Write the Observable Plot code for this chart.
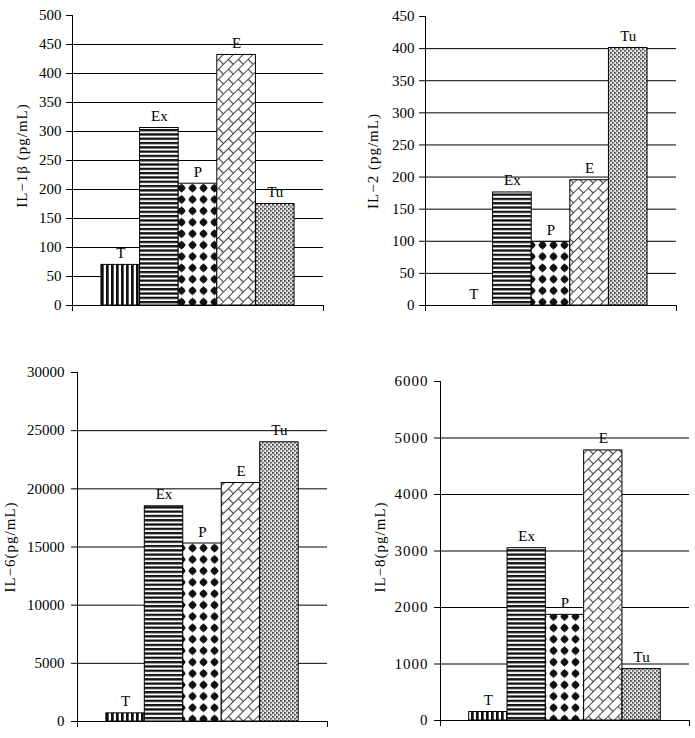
<!DOCTYPE html>
<html><head><meta charset="utf-8">
<script src="https://cdn.jsdelivr.net/npm/d3@7"></script>
<script src="https://cdn.jsdelivr.net/npm/@observablehq/plot@0.6"></script>
<style>
body{margin:0;background:#fff;}
#wrap{position:relative;width:695px;height:738px;overflow:hidden;}
#wrap > svg{position:absolute;}
</style></head><body><div id="wrap"></div>
<script>
// ---- data ----
const groups = ["T", "Ex", "P", "E", "Tu"];
const il1b = [70, 306, 210, 432, 175];
const il2 = [0, 176, 99, 195, 401];
const il6 = [700, 18500, 15300, 20500, 24000];
const il8 = [150, 3050, 1870, 4780, 910];
const yLabels = ["IL−1β (pg/mL)", "IL−2 (pg/mL)", "IL−6(pg/mL)", "IL−8(pg/mL)"];
const yMax = [500, 450, 30000, 6000];
const yStep = [50, 50, 5000, 1000];

// ---- layout ----
const FONT = '"Liberation Serif","Times New Roman",serif';
const G = 0.75; // outer gap in bar widths
const layouts = [
  {left: 0,   top: 0,   width: 340, height: 320, ml: 72, mr: 17, mt: 15, mb: 15, labelDx: -50, labelDy: -5, tickPad: 5, tickLs: 0},
  {left: 350, top: 0,   width: 345, height: 320, ml: 75, mr: 19, mt: 16, mb: 15, labelDx: -52, labelDy: 0, tickPad: 5, tickLs: 0},
  {left: 0,   top: 360, width: 340, height: 378, ml: 77, mr: 13, mt: 12, mb: 17, labelDx: -67, labelDy: 0, tickPad: 7, tickLs: 0},
  {left: 350, top: 360, width: 345, height: 378, ml: 90, mr: 6,  mt: 21, mb: 18, labelDx: -60, labelDy: -4, tickPad: 6, tickLs: 1}
];

function patterns(p) {
  return `<defs>
  <pattern id="${p}T" width="5" height="10" patternUnits="userSpaceOnUse"><rect width="5" height="10" fill="#fff"/><rect x="1" width="2.7" height="10" fill="#111"/></pattern>
  <pattern id="${p}Ex" width="10" height="4.3" patternUnits="userSpaceOnUse"><rect width="10" height="4.3" fill="#fff"/><rect y="0" width="10" height="2.3" fill="#111"/></pattern>
  <pattern id="${p}P" width="11" height="11.4" patternUnits="userSpaceOnUse"><rect width="11" height="11.4" fill="#fff"/><path d="M5.5,1.3 L9.8,5.7 L5.5,10.1 L1.2,5.7Z" fill="#111"/><circle cx="5.5" cy="5.7" r="3.3" fill="#111"/></pattern>
  <pattern id="${p}E" width="14" height="14" patternUnits="userSpaceOnUse" patternTransform="rotate(-45)"><rect width="14" height="14" fill="#fff"/><path d="M0,0.5H14M0,7.5H14M0.5,0V7.5M7.5,7.5V14" stroke="#444" stroke-width="1.2" fill="none"/></pattern>
  <pattern id="${p}Tu" width="4" height="4" patternUnits="userSpaceOnUse"><rect width="4" height="4" fill="#d0d0d0"/><rect width="1.6" height="1.6" fill="#333"/><rect x="2" y="2" width="1.6" height="1.6" fill="#555"/><rect x="3" y="0" width="1" height="1" fill="#fff"/><rect x="1" y="2.5" width="1" height="1" fill="#fff"/></pattern>
  </defs>`;
}

function panel(values, i) {
  const L = layouts[i];
  const pre = "p" + i;
  const n = groups.length;
  const data = groups.map((g, k) => ({g, v: values[k], x1: k + G, x2: k + 1 + G}));
  const ticks = d3.range(0, yMax[i] + 1e-9, yStep[i]);
  const svg = Plot.plot({
    width: L.width, height: L.height,
    marginLeft: L.ml, marginRight: L.mr, marginTop: L.mt, marginBottom: L.mb,
    style: {fontFamily: FONT, fontSize: "15px", color: "#000", background: "transparent", overflow: "visible"},
    x: {domain: [0, n + 2 * G]},
    y: {domain: [0, yMax[i]]},
    color: {type: "identity"},
    marks: [
      Plot.ruleY(ticks.filter(t => t > 0 && t < yMax[i]), {stroke: "#000", strokeWidth: 1}),
      Plot.rect(data, {x1: "x1", x2: "x2", y1: 0, y2: "v", fill: d => `url(#${pre}${d.g})`, stroke: "#000", strokeWidth: 1}),
      Plot.ruleY([0], {stroke: "#000"}),
      Plot.ruleX([0], {stroke: "#000"}),
      Plot.axisY({ticks, tickSize: 6, tickPadding: L.tickPad, tickFormat: d => String(d), label: null, fontSize: 15}),
      Plot.axisX({ticks: [0, n + 2 * G], tickSize: 6, tickFormat: () => "", label: null}),
      Plot.text(data, {x: d => (d.x1 + d.x2) / 2, y: "v", text: "g", dy: -7, lineAnchor: "bottom", fontSize: 15, fill: "#000"}),
      Plot.text([yLabels[i]], {frameAnchor: "left", textAnchor: "middle", lineAnchor: "middle", text: d => d, rotate: -90, dx: L.labelDx, dy: L.labelDy, fontSize: 15, fill: "#000"})
    ]
  });
  svg.insertAdjacentHTML("afterbegin", patterns(pre));
  svg.querySelectorAll("text").forEach(t => {
    if (t.textContent === yLabels[i]) t.setAttribute("letter-spacing", "1");
    else if (/^\d+$/.test(t.textContent) && L.tickLs) t.setAttribute("letter-spacing", String(L.tickLs));
  });
  svg.style.left = L.left + "px";
  svg.style.top = L.top + "px";
  document.getElementById("wrap").appendChild(svg);
}

[il1b, il2, il6, il8].forEach((v, i) => panel(v, i));
</script>
</body></html>
